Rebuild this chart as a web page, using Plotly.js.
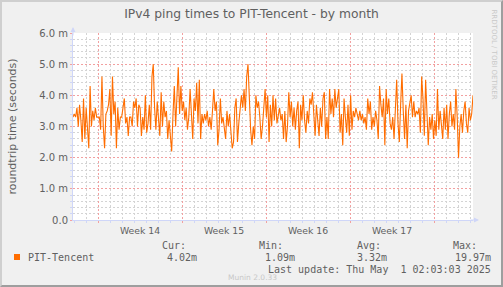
<!DOCTYPE html>
<html>
<head>
<meta charset="utf-8">
<script src="https://cdn.plot.ly/plotly-3.0.1.min.js"></script>
<style>
  html, body { margin: 0; padding: 0; background: #f0f0f0; }
  #wrap { position: relative; width: 503px; height: 287px; }
  #chart { position: absolute; left: 0; top: 0; width: 503px; height: 287px; }
  #frame { position: absolute; left: 0; top: 0; width: 499px; height: 283px;
           border-left: 2px solid #cfcfcf; border-top: 2px solid #cfcfcf;
           border-right: 2px solid #9e9e9e; border-bottom: 2px solid #9e9e9e;
           pointer-events: none; }
</style>
</head>
<body>
<div id="wrap"><div id="chart"></div><div id="frame"></div></div>
<script>
// ---- data (ping times in milliseconds) ----
const seriesName = 'PIT-Tencent';
const rangeStart = '2025-03-28 22:00';
const rangeEnd   = '2025-05-01 06:00';
const pingPart1 = [3.3,3.4,3.3,3.6,3.0,3.7,3.2,2.5,3.9,2.6,3.6,3.0,2.3,4.3,3.0,3.5,3.2,3.6,3.3,3.3,3.3,2.9,4.6,3.0,2.3,3.4,3.5,3.7,4.2,2.7,4.6,3.4,3.8,2.3,3.6,2.9,3.3,3.3,3.6,3.9,3.1,3.3,2.7,3.3,3.3,3.0,3.8,3.6,3.9,3.0,3.7];
const pingPart2 = [3.6,2.7,3.3,2.9,4.0,2.8,3.1,3.7,2.9,4.6,5.0,3.6,2.9,3.8,3.1,2.7,4.1,3.0,3.8,3.3,3.5,2.6,3.2,2.8,2.2,3.4,4.3,3.0,3.9,4.9,3.4,4.3,3.5,3.8,3.2,3.6,2.9,3.3,4.2,3.2,2.6,3.9,3.5,4.4,3.1,4.5,2.6,3.4,3.1,3.4,3.2,3.5,3.0];
const pingPart3 = [3.3,2.9,3.5,4.2,3.5,3.8,2.4,2.9,3.9,3.1,3.3,2.9,2.6,3.5,3.0,3.4,2.9,2.3,2.5,3.6,3.9,2.5,3.1,3.7,4.0,3.6,4.2,3.5,4.6,5.0,3.8,2.9,2.4,3.0,2.6,4.0,3.6,3.8,3.3,2.6,3.0,3.8,4.2,3.3,4.0,2.5,3.7,3.0,4.0,3.2,3.9,3.1];
const pingPart4 = [3.3,3.6,3.2,3.4,2.6,3.5,2.5,3.0,4.1,3.3,3.8,3.0,3.6,2.9,3.5,3.8,2.3,3.7,3.2,4.0,3.2,2.8,3.5,3.1,3.9,3.7,4.1,3.3,2.7,3.7,3.3,2.7,3.6,3.0,3.9,4.1,2.6,3.3,2.6,4.2,3.4,3.9,3.3,4.2,3.6,4.0,4.2,2.8,3.4,2.4,3.9];
const pingPart5 = [3.3,2.8,3.7,2.7,4.0,2.9,3.5,3.3,3.6,3.4,3.2,3.5,3.2,3.4,3.1,3.3,2.9,3.9,3.4,3.8,2.9,3.3,3.0,3.5,3.2,2.6,4.3,3.7,3.3,3.9,2.4,4.2,3.4,3.9,3.1,2.9,3.3,2.6,3.8,4.5,3.1,2.5,3.7,4.7,3.5,2.6,3.7,2.3,3.5,3.8,4.0];
const pingPart6 = [3.3,3.8,3.3,3.5,3.4,3.6,2.8,4.6,3.9,2.7,4.5,3.3,2.4,3.3,2.9,3.4,2.6,3.2,2.7,4.2,2.9,3.5,3.0,2.6,3.6,2.9,3.7,2.6,3.4,3.8,3.0,3.4,2.9,4.2,3.3,2.0,3.0,3.4,2.8,3.5,3.8,3.1,2.8,3.6,3.2,3.4,4.0];
const yTickVals   = [0, 1, 2, 3, 4, 5, 6];
const yTickLabels = ['0.0', '1.0 m', '2.0 m', '3.0 m', '4.0 m', '5.0 m', '6.0 m'];
const statLabels  = ['Cur:', 'Min:', 'Avg:', 'Max:'];
const statValues  = ['4.02m', '1.09m', '3.32m', '19.97m'];
const lastUpdate  = 'Last update: Thu May \u00a01 02:03:03 2025';
const titleText   = 'IPv4 ping times to PIT-Tencent - by month';
const yTitleText  = 'roundtrip time (seconds)';

// ---- build series ----
const ping = [].concat(pingPart1, pingPart2, pingPart3, pingPart4, pingPart5, pingPart6);
const t0 = Date.parse(rangeStart.replace(' ', 'T') + ':00Z');
const t1 = Date.parse(rangeEnd.replace(' ', 'T') + ':00Z');
const step = (t1 - t0) / (ping.length - 1);
const times = ping.map((_, i) => new Date(t0 + i * step).toISOString());

// ---- layout geometry ----
const W = 503, H = 287;
const M = { l: 73, r: 30, t: 33, b: 67 };
const PW = W - M.l - M.r, PH = H - M.t - M.b;
const px = x => (x - M.l) / PW;
const py = y => (H - M.b - y) / PH;

const FONT = 'DejaVu Sans, sans-serif';
const MONO = 'DejaVu Sans Mono, monospace';
const TXT = '#606060';
const AXIS = '#CFD6F8';

const statX = [160, 257, 354.5, 451];
const valX  = [165, 263, 355, 452.5];

const annotations = [];
statLabels.forEach((s, i) => annotations.push({
  xref: 'paper', yref: 'paper', x: px(statX[i]), y: py(245), xanchor: 'left', yanchor: 'middle',
  text: s, showarrow: false, font: { family: MONO, size: 10, color: TXT }
}));
statValues.forEach((s, i) => annotations.push({
  xref: 'paper', yref: 'paper', x: px(valX[i]), y: py(257.3), xanchor: 'left', yanchor: 'middle',
  text: s, showarrow: false, font: { family: MONO, size: 10, color: TXT }
}));
annotations.push({
  xref: 'paper', yref: 'paper', x: px(26), y: py(257.3), xanchor: 'left', yanchor: 'middle',
  text: seriesName, showarrow: false, font: { family: MONO, size: 10, color: TXT }
});
annotations.push({
  xref: 'paper', yref: 'paper', x: px(266), y: py(269.5), xanchor: 'left', yanchor: 'middle',
  text: lastUpdate, showarrow: false, font: { family: MONO, size: 10, color: TXT }
});
annotations.push({
  xref: 'paper', yref: 'paper', x: px(252), y: py(277), xanchor: 'center', yanchor: 'middle',
  text: 'Munin 2.0.33', showarrow: false, font: { family: FONT, size: 7.5, color: '#c8c8c8' }
});
annotations.push({
  xref: 'paper', yref: 'paper', x: px(493.5), y: py(54), xanchor: 'center', yanchor: 'middle',
  text: 'RRDTOOL / TOBI OETIKER', textangle: 90, showarrow: false,
  font: { family: FONT, size: 7, color: '#c8c8c8' }
});
// axis arrows
annotations.push({
  xref: 'paper', yref: 'paper', x: 0, y: py(27), ax: 0, ay: 10, text: '', showarrow: true,
  arrowhead: 2, arrowsize: 1, arrowwidth: 1, arrowcolor: AXIS
});
annotations.push({
  xref: 'paper', yref: 'paper', x: px(479), y: 0, ax: -10, ay: 0, text: '', showarrow: true,
  arrowhead: 2, arrowsize: 1, arrowwidth: 1, arrowcolor: AXIS
});

const shapes = [{
  type: 'rect', xref: 'paper', yref: 'paper',
  x0: px(14), x1: px(20), y0: py(260), y1: py(254),
  fillcolor: '#ff6d00', line: { width: 0 }
}];

const trace = {
  type: 'scatter', mode: 'lines', x: times, y: ping, name: seriesName,
  line: { color: '#ff6d00', width: 1.1 }, hoverinfo: 'skip'
};

const layout = {
  width: W, height: H, margin: M,
  paper_bgcolor: '#f0f0f0', plot_bgcolor: '#ffffff',
  showlegend: false,
  title: { text: titleText, x: 0.5, xref: 'container', xanchor: 'center',
           y: 1 - 13.5 / H, yref: 'container', yanchor: 'middle',
           font: { family: FONT, size: 12.3, color: TXT } },
  xaxis: {
    type: 'date', range: [rangeStart, rangeEnd],
    tick0: '2025-03-31', dtick: 7 * 86400000, ticklabelmode: 'period', tickformat: 'Week %V',
    showgrid: true, gridcolor: '#f2a0a0', griddash: '2px,2px', gridwidth: 1,
    ticks: 'outside', ticklen: 2, tickcolor: '#f2a0a0',
    minor: { dtick: 86400000, showgrid: true, gridcolor: '#d4d4d4', griddash: '2px,2px',
             ticks: 'outside', ticklen: 2, tickcolor: AXIS },
    showline: true, linecolor: AXIS, linewidth: 1, zeroline: false,
    tickfont: { family: FONT, size: 9.3, color: TXT }
  },
  yaxis: {
    range: [0, 6], tickmode: 'array', tickvals: yTickVals, ticktext: yTickLabels,
    showgrid: true, gridcolor: '#f2a0a0', griddash: '2px,2px', gridwidth: 1,
    ticks: 'outside', ticklen: 2, tickcolor: '#f2a0a0',
    minor: { tick0: 0, dtick: 0.2, showgrid: true, gridcolor: '#d4d4d4', griddash: '2px,2px',
             ticks: 'outside', ticklen: 2, tickcolor: AXIS },
    showline: true, linecolor: AXIS, linewidth: 1, zeroline: false,
    tickfont: { family: FONT, size: 10, color: TXT },
    title: { text: yTitleText, standoff: 20, font: { family: FONT, size: 11, color: TXT } }
  },
  annotations: annotations,
  shapes: shapes
};

Plotly.newPlot('chart', [trace], layout, { staticPlot: true, displayModeBar: false });
</script>
</body>
</html>
